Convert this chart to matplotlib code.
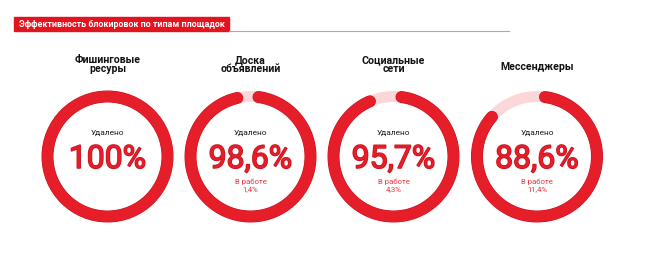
import numpy as np
import matplotlib.pyplot as plt
import matplotlib.patheffects as pe

plt.rcParams['font.family'] = ['Roboto', 'DejaVu Sans']

title = 'Эффективность блокировок по типам площадок'
categories = ['Фишинговые\nресуры', 'Доска\nобъявлений', 'Социальные\nсети', 'Мессенджеры']
removed = [100.0, 98.6, 95.7, 88.6]
in_work = [0.0, 1.4, 4.3, 11.4]
removed_labels = ['100%', '98,6%', '95,7%', '88,6%']
in_work_labels = ['', '1,4%', '4,3%', '11,4%']

red = '#e51e2a'
pale = '#fbd7da'
dark = '#c9101c'

fig = plt.figure(figsize=(6.5, 2.71), dpi=100)
ax = fig.add_axes([0, 0, 1, 1])
ax.set_xlim(0, 650)
ax.set_ylim(271, 0)
ax.axis('off')

# header bar
ax.add_patch(plt.Rectangle((14, 17), 215, 14, color='#e3131f', zorder=2))
ax.plot([229, 509], [30.5, 30.5], color='#f08a90', lw=0.8)
ax.text(19, 24.3, title, color='white', fontsize=6.4, fontweight='bold',
        va='center', ha='left', zorder=3)

centers = [107.5, 250.5, 393.5, 537]
cy = 156.5
r = 60
lw = 11 * 0.72
cap = (lw / 0.72 / 2 + 2.5) / r
stroke = [pe.Stroke(linewidth=lw + 0.7, foreground=dark), pe.Normal()]

def arc(t0, t1, n=200):
    t = np.linspace(t0, t1, n)
    return np.sin(t), -np.cos(t)

for cx, cat, val, rest, lab, rlab in zip(centers, categories, removed, in_work,
                                         removed_labels, in_work_labels):
    if rest == 0:
        ring = plt.Circle((cx, cy), r, fill=False, edgecolor=red, lw=lw)
        ring.set_path_effects(stroke)
        ax.add_patch(ring)
    else:
        ax.add_patch(plt.Circle((cx, cy), r, fill=False, edgecolor=pale, lw=lw))
        end = 2 * np.pi * val / 100
        x, y = arc(cap, end - cap)
        ax.plot(cx + r * x, cy + r * y, color=red, lw=lw,
                solid_capstyle='round', path_effects=stroke)
        ax.text(cx, 184, 'В работе', color='#e8353f', fontsize=5.6,
                ha='center', va='baseline')
        ax.text(cx, 191, rlab, color='#e8353f', fontsize=5.6,
                ha='center', va='baseline')

    ax.text(cx, 135, 'Удалено', color='#1a1a1a', fontsize=6,
            ha='center', va='baseline')
    ax.text(cx, 168, lab, color=red, fontsize=23, fontweight='normal',
            ha='center', va='baseline',
            path_effects=[pe.Stroke(linewidth=1.1, foreground=dark), pe.Normal()])
    lines = cat.split('\n')
    if len(lines) == 2:
        ax.text(cx, 63, lines[0], color='#111111', fontsize=7.6, fontweight='bold',
                ha='center', va='baseline')
        ax.text(cx, 72, lines[1], color='#111111', fontsize=7.6, fontweight='bold',
                ha='center', va='baseline')
    else:
        ax.text(cx, 70, lines[0], color='#111111', fontsize=7.6, fontweight='bold',
                ha='center', va='baseline')

fig.savefig('out.png', dpi=100)
